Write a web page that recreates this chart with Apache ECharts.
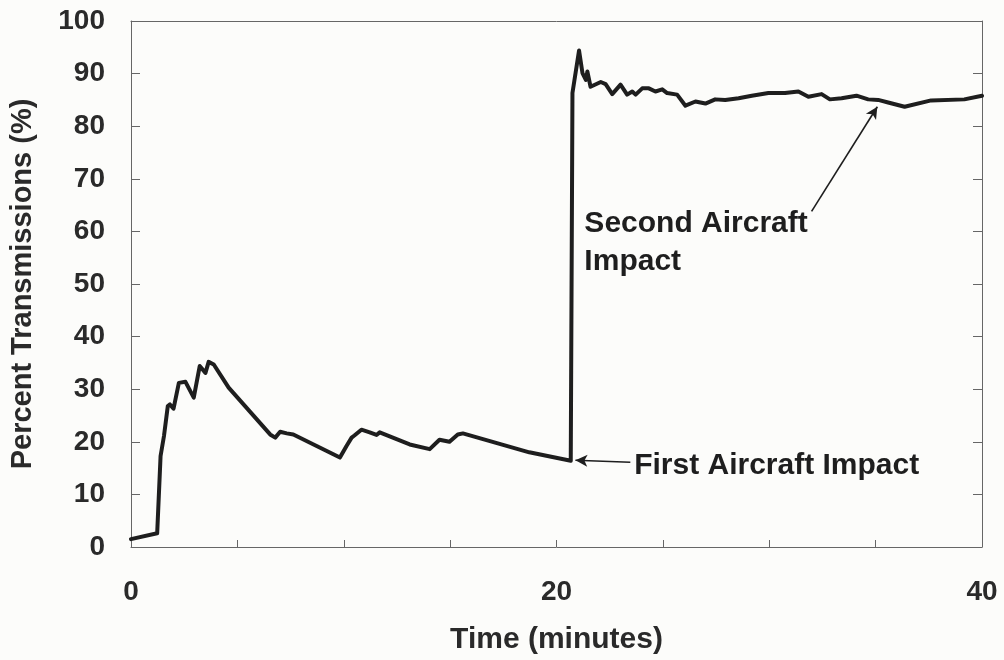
<!DOCTYPE html>
<html>
<head>
<meta charset="utf-8">
<script src="https://cdn.jsdelivr.net/npm/echarts@6/dist/echarts.min.js"></script>
<style>
html,body{margin:0;padding:0;background:#fcfcfa;}
#c{width:1004px;height:660px;}
</style>
</head>
<body>
<div id="c"></div>
<script>
var timeMin = [0,1.23,1.39,1.55,1.73,1.83,2.0,2.09,2.25,2.56,2.95,3.23,3.5,3.65,3.89,4.59,6.54,6.78,7.01,7.32,7.63,9.82,10.13,10.37,10.5,10.83,11.22,11.54,11.69,13.1,14.04,14.5,14.97,15.36,15.6,18.72,20.67,20.75,21.06,21.22,21.38,21.45,21.6,22.08,22.31,22.62,23.01,23.32,23.56,23.72,24.03,24.34,24.65,24.97,25.2,25.67,26.06,26.53,27.0,27.46,27.93,28.56,29.18,29.96,30.74,31.37,31.84,32.46,32.85,33.4,34.1,34.65,35.12,35.59,36.36,37.61,39.17,40];
var percentTx = [1.5,2.6,17.3,21.1,26.8,27.1,26.3,26.6,31.2,31.4,28.4,34.4,33.1,35.2,34.7,30.3,21.4,20.8,21.9,21.6,21.4,17.0,19.2,20.8,21.2,22.3,21.8,21.3,21.8,19.5,18.6,20.4,20.0,21.4,21.6,18.0,16.4,86.3,94.4,90.1,88.8,90.4,87.5,88.4,88.0,86.1,87.9,86.0,86.6,86.0,87.2,87.2,86.6,87.0,86.3,86.0,83.9,84.7,84.3,85.1,85.0,85.3,85.8,86.3,86.3,86.6,85.6,86.1,85.1,85.3,85.8,85.1,85.0,84.5,83.7,84.9,85.1,85.8];
var xLabelTicks = [0,20,40];
var annFirst = {text:'First Aircraft Impact', at:[23.65,15.4], arrowFrom:[23.47,16.1], arrowTo:[20.89,16.5]};
var annSecond = {text:'Second Aircraft\nImpact', at:[21.31,57.9], arrowFrom:[31.99,63.8], arrowTo:[35.08,83.7]};

var pts = timeMin.map(function(t,i){return [t, percentTx[i]];});
var font = '"Liberation Sans", Arial, sans-serif';
var axisCol = '#666';
var chart = echarts.init(document.getElementById('c'), null, {renderer:'canvas'});
chart.setOption({
  backgroundColor:'#fcfcfa',
  animation:false,
  grid:{left:127, right:22, top:21, bottom:112, containLabel:false},
  xAxis:[{
    type:'value', min:0, max:40, interval:5, position:'bottom',
    name:'Time (minutes)', nameLocation:'middle', nameGap:78,
    nameTextStyle:{fontFamily:font, fontWeight:'bold', fontSize:30, color:'#2a2a2a'},
    axisLine:{show:true, onZero:false, lineStyle:{color:axisCol, width:1}},
    axisTick:{show:true, inside:true, length:7, lineStyle:{color:axisCol}},
    axisLabel:{margin:31, fontFamily:font, fontWeight:'bold', fontSize:28, color:'#2a2a2a',
      formatter:function(v){return xLabelTicks.indexOf(v)>=0 ? String(v) : '';}},
    splitLine:{show:false}
  },{
    type:'value', min:0, max:40, position:'top',
    axisLine:{show:true, onZero:false, lineStyle:{color:axisCol, width:1}},
    axisTick:{show:false}, axisLabel:{show:false}, splitLine:{show:false}
  }],
  yAxis:[{
    type:'value', min:0, max:100, interval:10, position:'left',
    name:'Percent Transmissions (%)', nameLocation:'middle', nameGap:94, nameRotate:90,
    nameTextStyle:{fontFamily:font, fontWeight:'bold', fontSize:29, color:'#2a2a2a'},
    axisLine:{show:true, onZero:false, lineStyle:{color:axisCol, width:1}},
    axisTick:{show:true, inside:true, length:9, lineStyle:{color:axisCol}},
    axisLabel:{margin:26, fontFamily:font, fontWeight:'bold', fontSize:28, color:'#2a2a2a'},
    splitLine:{show:false}
  },{
    type:'value', min:0, max:100, interval:10, position:'right',
    axisLine:{show:true, onZero:false, lineStyle:{color:axisCol, width:1}},
    axisTick:{show:true, inside:true, length:9, lineStyle:{color:axisCol}},
    axisLabel:{show:false}, splitLine:{show:false}
  }],
  series:[{
    type:'line', data:pts, showSymbol:false, symbol:'none',
    lineStyle:{color:'#1e1e1e', width:4, join:'round', cap:'round'},
    markLine:{
      silent:true, symbol:['none','arrow'], symbolSize:[9,12],
      label:{show:false},
      lineStyle:{color:'#1e1e1e', width:1.6, type:'solid'},
      data:[
        [{coord:annFirst.arrowFrom},{coord:annFirst.arrowTo}],
        [{coord:annSecond.arrowFrom},{coord:annSecond.arrowTo}]
      ]
    },
    markPoint:{
      silent:true, symbol:'circle', symbolSize:0,
      label:{show:true, position:'right', distance:0, fontFamily:font, fontWeight:'bold', fontSize:30, color:'#1e1e1e', lineHeight:38, align:'left'},
      data:[
        {coord:annFirst.at, value:annFirst.text, label:{formatter:annFirst.text}},
        {coord:annSecond.at, value:annSecond.text, label:{formatter:annSecond.text}}
      ]
    }
  }]
});
</script>
</body>
</html>
